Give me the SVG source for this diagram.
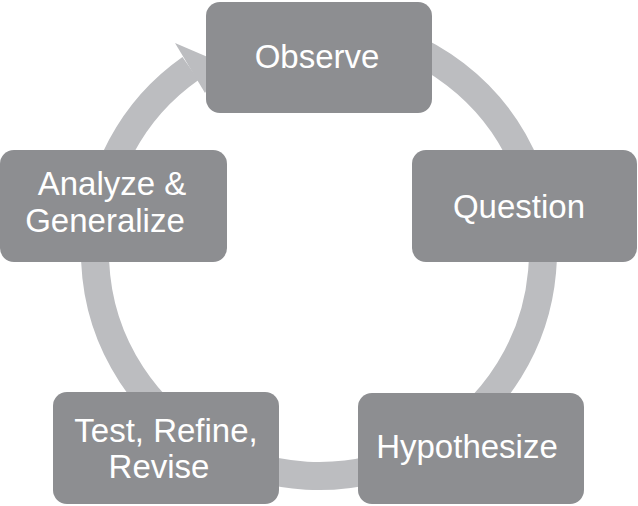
<svg xmlns="http://www.w3.org/2000/svg" width="638" height="506" viewBox="0 0 638 506">
<style>
.box{fill:#8d8e91}
.lbl{fill:#ffffff;font-family:"Liberation Sans",Arial,sans-serif;font-size:33px;text-anchor:middle}
.ring{fill:none;stroke:#bcbdc0;stroke-width:28}
</style>
<rect width="638" height="506" fill="#ffffff"/>
<g id="connectors">
<path class="ring" d="M 242.4 41.5 A 224 224 0 1 1 190.5 68.5"/>
<polygon points="175,43 224,64 205,93" fill="#bcbdc0"/>
</g>
<g id="observe">
<rect class="box" x="206" y="2" width="226" height="111" rx="14"/>
<text class="lbl" x="317" y="68">Observe</text>
</g>
<g id="question">
<rect class="box" x="412" y="150" width="225" height="112" rx="14"/>
<text class="lbl" x="519" y="218">Question</text>
</g>
<g id="hypothesize">
<rect class="box" x="358" y="393" width="226" height="111" rx="14"/>
<text class="lbl" x="467" y="458">Hypothesize</text>
</g>
<g id="test">
<rect class="box" x="53" y="392" width="226" height="112" rx="14"/>
<text class="lbl" x="166" y="442">Test, Refine,</text>
<text class="lbl" x="159" y="478">Revise</text>
</g>
<g id="analyze">
<rect class="box" x="0" y="150" width="227" height="112" rx="14"/>
<text class="lbl" x="112" y="195">Analyze &amp;</text>
<text class="lbl" x="105" y="232">Generalize</text>
</g>
</svg>
